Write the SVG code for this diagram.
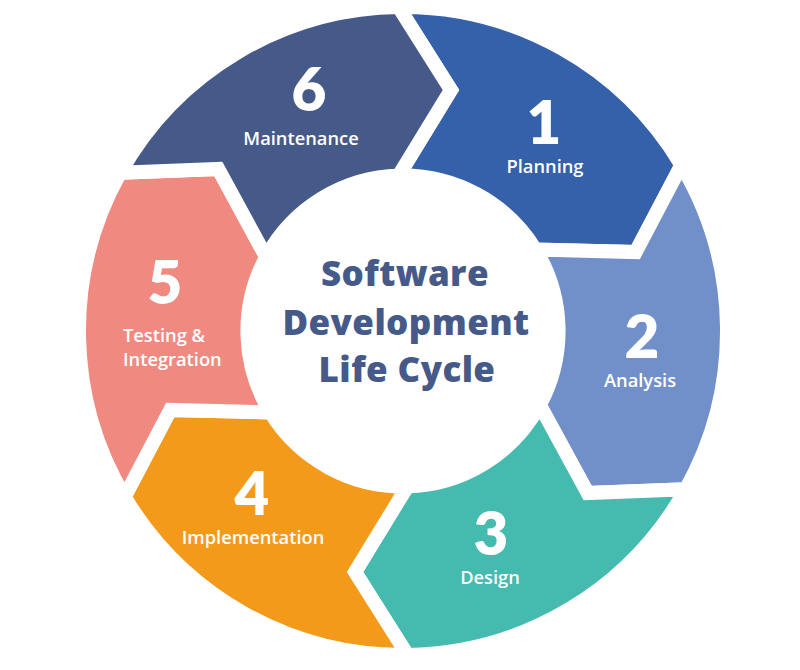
<svg xmlns="http://www.w3.org/2000/svg" width="800" height="670" viewBox="0 0 800 670">
  <style>
    .seg { stroke: #ffffff; stroke-width: 14; stroke-linejoin: miter; }
    .num { font-family: Lato, "Open Sans", sans-serif; font-weight: 800; font-size: 60px; fill: #ffffff; text-anchor: middle; }
    .lbl { font-family: "Open Sans", "Noto Sans", sans-serif; font-weight: 600; font-size: 18.3px; fill: #ffffff; text-anchor: middle; }
    .title { font-family: "Open Sans", "Noto Sans", sans-serif; font-weight: 800; font-size: 35px; fill: #465a8a; text-anchor: middle; letter-spacing: 0.4px; }
  </style>
  <rect x="0" y="0" width="800" height="670" fill="#ffffff"/>
  <g id="segments">
    <g id="step1">
      <path class="seg" fill="#3461aa" d="M 398.58 7 A 324 324 0 0 1 681.38 165.17 L 635.71 252.07 L 535.53 249.54 A 155.5 155.5 0 0 0 398.72 175.5 L 451 90 Z"/>
    </g>
    <g id="step2">
      <path class="seg" fill="#7190c9" d="M 681.38 165.17 A 324 324 0 0 1 685.80 489.17 L 587.71 493.07 L 539.81 405.04 A 155.5 155.5 0 0 0 535.53 249.54 L 635.71 252.07 Z"/>
    </g>
    <g id="step3">
      <path class="seg" fill="#45baae" d="M 685.80 489.17 A 324 324 0 0 1 407.42 655 L 355 572 L 407.28 486.5 A 155.5 155.5 0 0 0 539.81 405.04 L 587.71 493.07 Z"/>
    </g>
    <g id="step4">
      <path class="seg" fill="#f39a1a" d="M 407.42 655 A 324 324 0 0 1 124.62 496.83 L 170.29 409.93 L 270.47 412.46 A 155.5 155.5 0 0 0 407.28 486.5 L 355 572 Z"/>
    </g>
    <g id="step5">
      <path class="seg" fill="#f08a80" d="M 124.62 496.83 A 324 324 0 0 1 120.20 172.83 L 218.29 168.93 L 266.19 256.96 A 155.5 155.5 0 0 0 270.47 412.46 L 170.29 409.93 Z"/>
    </g>
    <g id="step6">
      <path class="seg" fill="#465a89" d="M 120.20 172.83 A 324 324 0 0 1 398.58 7 L 451 90 L 398.72 175.5 A 155.5 155.5 0 0 0 266.19 256.96 L 218.29 168.93 Z"/>
    </g>
  </g>
  <g id="labels">
    <g id="label1">
      <text class="num" x="544" y="144">1</text>
      <text class="lbl" x="545" y="173">Planning</text>
    </g>
    <g id="label2">
      <text class="num" x="642" y="358">2</text>
      <text class="lbl" x="640" y="387">Analysis</text>
    </g>
    <g id="label3">
      <text class="num" x="491" y="555">3</text>
      <text class="lbl" x="490" y="584">Design</text>
    </g>
    <g id="label4">
      <text class="num" x="252" y="515">4</text>
      <text class="lbl" x="253" y="544">Implementation</text>
    </g>
    <g id="label5">
      <text class="num" x="165" y="304">5</text>
      <text class="lbl" x="123" y="342" style="text-anchor:start">Testing &amp;</text>
      <text class="lbl" x="123" y="366" style="text-anchor:start">Integration</text>
    </g>
    <g id="label6">
      <text class="num" x="309" y="111">6</text>
      <text class="lbl" x="301" y="145">Maintenance</text>
    </g>
  </g>
  <g id="center">
    <text class="title" x="405" y="286">Software</text>
    <text class="title" x="406" y="335">Development</text>
    <text class="title" x="407" y="382">Life Cycle</text>
  </g>
</svg>
